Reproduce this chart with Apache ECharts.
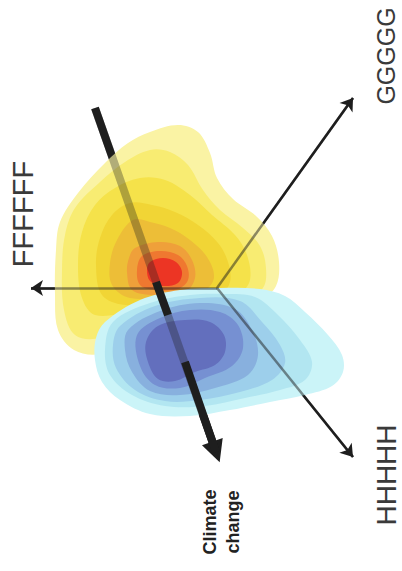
<!DOCTYPE html>
<html>
<head>
<meta charset="utf-8">
<script src="https://cdn.jsdelivr.net/npm/echarts@6/dist/echarts.min.js"></script>
<style>
html, body { margin: 0; padding: 0; background: #fff; }
#main { width: 402px; height: 571px; }
</style>
</head>
<body>
<div id="main"></div>
<script>
// three axes meeting in one point
var origin = [217, 288];
var axisEnds = [[31, 288], [353, 98], [353, 457]];
var axisNames = ['FFFFFF', 'GGGGG', 'HHHHH'];
var axisLabelAt = [[23, 214], [386, 56], [386, 475]];
var axisLabelSize = [29, 25, 28];

// climate change arrow, and the parts of it that sit on top of the clouds
var climateLine = [[95, 108], [216, 452]];
var climateTop = [[[156, 282], [168, 315]], [[185, 362], [216, 452]]];
var climateText = 'Climate\nchange';
var climateTextAt = [221, 522];

// yellow cloud, outer level first
var yellowLevels = [
    [[150,132],[178,125],[198,132],[210,153],[217,178],[233,199],[256,216],[272,236],[279,262],[276,286],[262,298],[225,304],[170,315],[130,338],[100,354],[74,350],[58,330],[55,295],[56,250],[60,222],[78,193],[105,163],[128,143]],
    [[150,150],[170,152],[188,165],[203,190],[220,210],[243,228],[260,246],[266,268],[263,288],[245,297],[195,305],[140,320],[100,338],[75,335],[64,310],[62,270],[65,235],[75,208],[100,182],[125,162]],
    [[140,178],[165,180],[190,195],[212,215],[235,235],[247,255],[250,280],[240,292],[190,302],[130,312],[95,315],[82,298],[78,265],[82,232],[95,205],[115,188]],
    [[130,203],[152,205],[175,212],[198,225],[218,243],[228,262],[230,282],[220,294],[170,302],[125,305],[102,295],[96,265],[100,238],[112,215]],
    [[133,220],[150,222],[170,228],[190,240],[207,257],[214,277],[205,290],[170,296],[130,298],[112,285],[110,263],[117,240]],
    [[135,248],[158,242],[180,246],[192,260],[195,278],[185,292],[155,295],[132,290],[127,272],[129,258]],
    [[142,256],[160,251],[178,255],[187,266],[188,280],[178,289],[155,290],[140,285],[137,270]],
    [[150,262],[163,258],[176,262],[182,272],[178,283],[162,286],[150,281],[147,270]]
];

// blue cloud, outer level first
var blueLevels = [
    [[105,322],[140,300],[180,290],[220,288],[260,289],[285,296],[305,312],[328,335],[342,355],[343,372],[332,386],[305,395],[270,402],[230,410],[190,416],[150,414],[120,400],[102,382],[95,360],[96,338]],
    [[113,322],[150,303],[190,295],[225,294],[255,297],[278,315],[300,340],[312,362],[305,380],[280,390],[245,398],[205,406],[165,406],[132,395],[110,375],[105,350]],
    [[120,326],[155,306],[200,298],[240,301],[262,322],[280,345],[285,363],[272,380],[240,392],[200,400],[165,401],[135,390],[116,368],[113,345]],
    [[128,330],[160,311],[200,303],[235,309],[252,330],[258,355],[248,375],[215,388],[180,395],[150,391],[132,372],[125,350]],
    [[137,335],[160,318],[190,310],[220,312],[238,325],[243,348],[232,366],[205,378],[180,388],[155,385],[140,366]],
    [[146,342],[158,326],[185,320],[210,322],[224,335],[225,352],[215,365],[195,372],[175,381],[158,379],[148,362]]
];

var yellowColors = ['#faf3a4', '#f8ec72', '#f5e24a', '#f1d535', '#edbe37', '#efa03a', '#ef7830', '#ec3524'];
var blueColors = ['#cbf4f8', '#b2e6f1', '#9dcfeb', '#88b0de', '#7690d2', '#636fbd'];

var chart = echarts.init(document.getElementById('main'), null, { renderer: 'svg' });

function cloud(levels, colors, z) {
    return {
        type: 'custom',
        coordinateSystem: 'cartesian2d',
        silent: true,
        clip: false,
        z: z,
        data: levels.map(function (pts, i) { return [i, 0]; }),
        renderItem: function (params, api) {
            var pts = levels[params.dataIndex].map(function (p) { return api.coord(p); });
            return {
                type: 'polygon',
                shape: { points: pts, smooth: 0.35 },
                style: { fill: colors[params.dataIndex], stroke: null }
            };
        }
    };
}

function axisLines(opacity, z, withHead) {
    return {
        type: 'lines',
        coordinateSystem: 'cartesian2d',
        silent: true,
        z: z,
        symbol: withHead ? ['none', 'arrow'] : 'none',
        symbolSize: [8, 12],
        lineStyle: { color: '#1e1e1e', width: 2.5, opacity: opacity, curveness: 0 },
        data: axisEnds.map(function (e) { return { coords: [origin, e] }; })
    };
}

var labels = axisNames.map(function (name, i) {
    return {
        type: 'text',
        x: axisLabelAt[i][0],
        y: axisLabelAt[i][1],
        rotation: Math.PI / 2,
        silent: true,
        style: {
            text: name,
            font: axisLabelSize[i] + 'px "Liberation Sans", Arial, sans-serif',
            fill: '#3a3a3a',
            textAlign: 'center',
            textVerticalAlign: 'middle'
        }
    };
});
labels.push({
    type: 'text',
    x: climateTextAt[0],
    y: climateTextAt[1],
    rotation: Math.PI / 2,
    silent: true,
    style: {
        text: climateText,
        font: 'bold 18px "Liberation Sans", Arial, sans-serif',
        lineHeight: 23,
        fill: '#222',
        textAlign: 'center',
        textVerticalAlign: 'middle'
    }
});

var option = {
    animation: false,
    backgroundColor: '#fff',
    grid: { left: 0, right: 0, top: 0, bottom: 0 },
    xAxis: { type: 'value', min: 0, max: 402, show: false },
    yAxis: { type: 'value', min: 0, max: 571, inverse: true, show: false },
    graphic: labels,
    series: [
        axisLines(1, 1, true),
        {
            type: 'lines',
            coordinateSystem: 'cartesian2d',
            silent: true,
            z: 1,
            symbol: ['none', 'triangle'],
            symbolSize: [19, 22],
            lineStyle: { color: '#1e1e1e', width: 8, opacity: 1, curveness: 0 },
            data: [{ coords: climateLine }]
        },
        cloud(yellowLevels, yellowColors, 2),
        cloud(blueLevels, blueColors, 3),
        axisLines(0.5, 4, false),
        {
            type: 'lines',
            coordinateSystem: 'cartesian2d',
            silent: true,
            z: 4,
            symbol: 'none',
            lineStyle: { color: '#1e1e1e', width: 8, opacity: 0.33, curveness: 0 },
            data: [{ coords: climateLine }]
        },
        {
            type: 'lines',
            coordinateSystem: 'cartesian2d',
            silent: true,
            z: 5,
            symbol: 'none',
            lineStyle: { color: '#1e1e1e', width: 8, opacity: 1, curveness: 0 },
            data: climateTop.map(function (c) { return { coords: c }; })
        }
    ]
};
chart.setOption(option);
</script>
</body>
</html>
